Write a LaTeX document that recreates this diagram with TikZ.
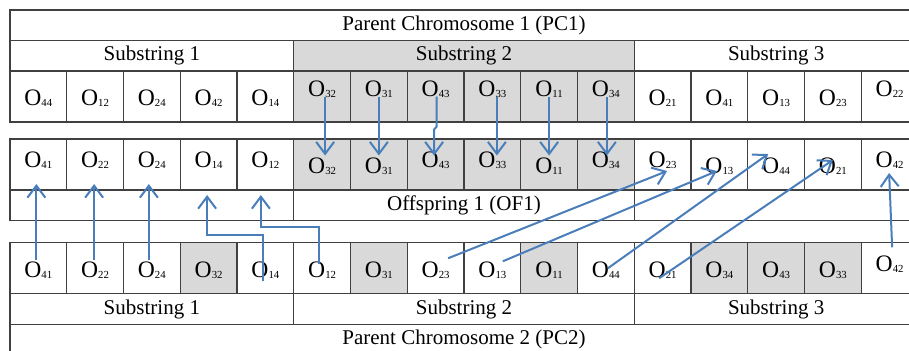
\documentclass[tikz,border=0pt]{standalone}
\usepackage{fontspec}
\setmainfont{Liberation Serif}
\usetikzlibrary{arrows.meta,positioning,calc}

\definecolor{arrowblue}{RGB}{74,126,187}
\newcommand{\og}[1]{O\raisebox{-0.5pt}{\fontsize{5.4}{6}\selectfont #1}}

\tikzset{
  cell/.style={draw=black!75,line width=0.6pt,minimum width=28.375pt,minimum height=25.5pt,
    inner sep=0pt,outer sep=0pt,font=\fontsize{11.8}{13}\selectfont},
  olow/.style={text height=9pt,text depth=0pt},
  omid/.style={text height=8pt,text depth=5pt},
  ohigh/.style={text height=8pt,text depth=8pt},
  glow/.style={olow,fill=black!15},
  gmid/.style={omid,fill=black!15},
  ghigh/.style={ohigh,fill=black!15},
  bar/.style={draw=black!75,line width=0.6pt,minimum height=15.25pt,inner sep=0pt,
    outer sep=0pt,font=\fontsize{10.5}{12}\selectfont},
  link/.style={draw=arrowblue,line width=1pt,->}
}

\begin{document}
\begin{tikzpicture}[x=0.5pt,y=-0.5pt,>={Straight Barb[length=6pt,width=9pt]}]

\useasboundingbox (0,0) rectangle (909,350);
\clip (0,0) rectangle (909,350);

% parent chromosome 1
\foreach \t/\s [count=\i] in {44/olow,12/olow,24/olow,42/olow,14/olow,32/ghigh,31/ghigh,43/ghigh,
    33/ghigh,11/ghigh,34/ghigh,21/olow,41/olow,13/olow,23/olow,22/ohigh}
  \node[cell,\s] (a\i) at ({10+(\i-0.5)*56.75},96.5) {\og{\t}};
\node[bar,anchor=south west,minimum width=141.875pt] (s1) at (a1.north west) {Substring 1};
\node[bar,anchor=south west,minimum width=170.25pt,fill=black!15] (s2) at (a6.north west) {Substring 2};
\node[bar,anchor=south west,minimum width=141.875pt] (s3) at (a12.north west) {Substring 3};
\node[bar,anchor=south west,minimum width=454pt] (pc1) at (s1.north west) {Parent Chromosome 1 (PC1)};

% offspring 1
\foreach \t/\s [count=\i] in {41/omid,22/omid,24/omid,14/omid,12/omid,32/glow,31/glow,43/gmid,
    33/gmid,11/glow,34/gmid,23/omid,13/olow,44/olow,21/olow,42/omid}
  \node[cell,\s] (b\i) at ({10+(\i-0.5)*56.75},164.5) {\og{\t}};
\node[bar,anchor=north west,minimum width=141.875pt] (f1) at (b1.south west) {};
\node[bar,anchor=north west,minimum width=170.25pt] (f2) at (b6.south west) {Offspring 1 (OF1)};
\node[bar,anchor=north west,minimum width=141.875pt] (f3) at (b12.south west) {};

% parent chromosome 2
\foreach \t/\s [count=\i] in {41/olow,22/olow,24/olow,32/glow,14/olow,12/olow,31/glow,23/olow,
    13/olow,11/glow,44/olow,21/olow,34/glow,43/glow,33/glow,42/omid}
  \node[cell,\s] (c\i) at ({10+(\i-0.5)*56.75},268.25) {\og{\t}};
\node[bar,anchor=north west,minimum width=141.875pt] (t1) at (c1.south west) {Substring 1};
\node[bar,anchor=north west,minimum width=170.25pt] (t2) at (c6.south west) {Substring 2};
\node[bar,anchor=north west,minimum width=141.875pt] (t3) at (c12.south west) {Substring 3};
\node[bar,anchor=north west,minimum width=454pt] (pc2) at (t1.south west) {Parent Chromosome 2 (PC2)};

% PC1 -> OF1
\draw[link,shorten >=4.5pt] ([xshift=1.5pt]a6.center) -- ([xshift=1.5pt]b6.center);
\draw[link,shorten >=4.5pt] (a7.center) -- (b7.center);
\draw[link] ($(a8)+(1,0)$) -- ++(0,30) -- ++(-2.5,3) -- ($(b8)+(-1.5,-9)$);
\draw[link,shorten >=4.5pt] ([xshift=2.25pt]a9.center) -- ([xshift=2.25pt]b9.center);
\draw[link,shorten >=4.5pt] (a10.center) -- (b10.center);
\draw[link,shorten >=4.5pt] ([xshift=0.5pt]a11.center) -- ([xshift=0.5pt]b11.center);

% PC2 -> OF1
\draw[link,shorten <=4pt,shorten >=9.75pt] ([xshift=-1pt]c1.center) -- ([xshift=-1pt]b1.center);
\draw[link,shorten <=4pt,shorten >=9.75pt] ([xshift=-0.5pt]c2.center) -- ([xshift=-0.5pt]b2.center);
\draw[link,shorten <=4pt,shorten >=9.75pt] ([xshift=-1.5pt]c3.center) -- ([xshift=-1.5pt]b3.center);
\draw[link] ($(c5)+(-2,13)$) |- ($(b4)+(-1.5,70.5)$) -- ($(b4)+(-1.5,30.5)$);
\draw[link] ($(c6)+(-3,-4)$) |- ($(b5)+(-4.5,62.5)$) -- ($(b5)+(-4.5,30.5)$);
\draw[link] ($(c8)+(12.5,-10)$) -- ($(b12)+(4.5,6.5)$);
\draw[link] ($(c9)+(10.5,-7)$) -- ($(b13)+(-2.5,6.5)$);
\draw[link] ($(c11)+(2,0)$) -- ($(b14)+(-8,-10.5)$);
\draw[link] ($(c12)+(-3.5,10)$) -- ($(b15)+(0,-4.5)$);
\draw[link] ($(c16)+(2.5,-21)$) -- ($(b16)+(-0.5,8.5)$);

\end{tikzpicture}
\end{document}
